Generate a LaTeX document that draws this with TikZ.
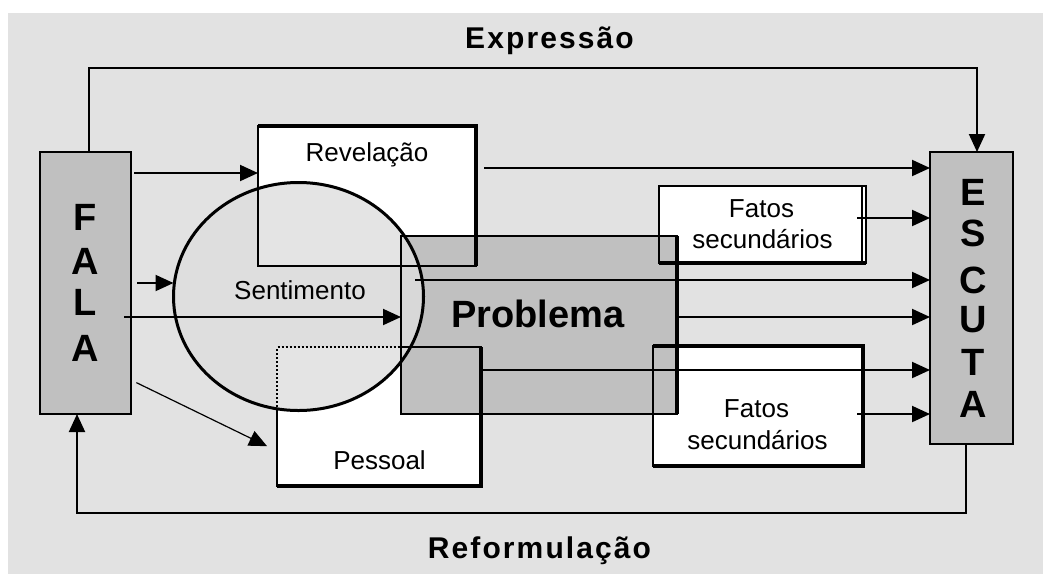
\documentclass[tikz,border=0pt]{standalone}
\usepackage{fontspec}
\setmainfont{Liberation Sans}
\usetikzlibrary{arrows.meta,shapes.geometric}
\definecolor{bg}{HTML}{E2E2E2}
\definecolor{boxgray}{HTML}{C0C0C0}
\definecolor{circfill}{HTML}{DEDEDE}
\newcommand{\dgTitle}{\fontsize{30}{36}\selectfont\bfseries\addfontfeatures{LetterSpace=7}}
\newcommand{\dgBig}{\fontsize{38}{42}\selectfont\bfseries}
\newcommand{\dgLabel}{\fontsize{26}{30}\selectfont}
\begin{document}
\begin{tikzpicture}[x=1pt,y=-1pt,
  box/.style={rectangle, inner sep=0pt, outer sep=0pt, fill=white},
  graybox/.style={box, fill=boxgray},
  arr/.style={-{Triangle[length=18pt,width=16pt]}, line width=2pt},
  frame/.style={line width=2pt},
  heavy/.style={line width=3.5pt},
  lbl/.style={font=\dgLabel, inner sep=0pt, anchor=base},
  big/.style={font=\dgBig, inner sep=0pt},
  ttl/.style={font=\dgTitle, inner sep=0pt, anchor=base}]
\useasboundingbox (0,0) rectangle (1043,574);
\fill[white] (0,0) rectangle (1043,574);
\fill[bg] (8,13) rectangle (1043,574);

% fills
\node[graybox, minimum width=91pt, minimum height=262pt] (fala) at (85.5,283) {};
\node[graybox, minimum width=83pt, minimum height=292pt] (esc) at (971.5,298) {};
\node[box, minimum width=218pt, minimum height=140pt] (rev) at (367,196) {};
\node[box, minimum width=204pt, minimum height=139pt] (pess) at (379,416.5) {};
\node[box, minimum width=207pt, minimum height=77pt] (fat1) at (762.5,224.5) {};
\node[box, minimum width=210pt, minimum height=120pt] (fat2) at (758,406) {};
\node[graybox, minimum width=276pt, minimum height=178pt] (prob) at (539,325) {};
\node[ellipse, inner sep=0pt, outer sep=0pt, minimum width=250pt, minimum height=228pt,
      fill=circfill, fill opacity=0.8, draw, line width=3pt] (circ) at (298.5,296.5) {};

% borders
\draw[frame] (fala.north west) rectangle (fala.south east);
\draw[frame] (esc.north west) rectangle (esc.south east);
\draw[frame] (rev.north west) rectangle (rev.south east);
\draw[heavy] (rev.north west) -- (rev.north east) -- (rev.south east);
\draw[frame] (fat1.north west) rectangle (fat1.south east);
\draw[heavy] (fat1.south west) -- (fat1.south east);
\draw[frame] ([xshift=-4pt]fat1.north east) -- ([xshift=-4pt]fat1.south east);
\draw[frame] (fat2.north west) rectangle (fat2.south east);
\draw[heavy] (fat2.south west) -- (fat2.south east) -- (fat2.north east) -- (fat2.north west);
\draw[frame] (prob.west |- pess.north) -- (pess.north east) -- (pess.south east) -- (pess.south west) -- (pess.west |- circ.south);
\draw[frame, dotted] (pess.west |- circ.south) -- (pess.north west) -- (prob.west |- pess.north);
\draw[heavy] (pess.north east) -- (pess.south east) -- (pess.south west);
\draw[frame] (prob.north west) rectangle (prob.south east);
\draw[heavy] (prob.north east) -- (prob.south east);

% loop connectors
\coordinate (top) at (0,68);
\coordinate (bot) at (0,513);
\coordinate (fx) at ([xshift=3.5pt]fala.north);
\coordinate (ex) at ([xshift=5.5pt]esc.north);
\coordinate (rx) at ([xshift=-5.5pt]esc.south);
\coordinate (fy) at ([xshift=-8.5pt]fala.south);
\draw[arr] (fx) -- (fx |- top) -- (ex |- top) -- (ex);
\draw[arr] (rx) -- (rx |- bot) -- (fy |- bot) -- (fy);

% arrows from FALA
\draw[arr, shorten <=3pt] (fala.east |- 0,173) -- (rev.west |- 0,173);
\draw[arr, shorten <=6pt] (fala.east |- 0,283) -- (circ.west |- 0,283);
\draw[arr, shorten <=-7pt] (fala.east |- 0,317) -- (prob.west |- 0,317);
\draw[line width=1.2pt, -{Triangle[length=18pt,width=16pt]}, shorten <=6pt, shorten >=11pt]
  (fala.east |- 0,380) -- (pess.west |- 0,451);

% arrows to ESCUTA
\draw[arr, shorten <=8pt] (rev.east |- 0,168) -- (esc.west |- 0,168);
\draw[arr, shorten <=-9pt] (fat1.east |- 0,218) -- (esc.west |- 0,218);
\draw[arr, shorten <=14pt] (prob.west |- 0,280) -- (esc.west |- 0,280);
\draw[arr] (prob.east |- 0,317) -- (esc.west |- 0,317);
\draw[arr] (pess.east |- 0,370) -- (esc.west |- 0,370);
\draw[arr, shorten <=-6pt] (fat2.east |- 0,414) -- (esc.west |- 0,414);

% texts
\node[ttl] (texpr) at (549.5,48.3) {Expressão};
\node[ttl] (trefo) at (539.5,558.3) {Reformulação};
\node[big] (f1) at (85.5,217) {F};
\node[big] (f2) at (85.5,261) {A};
\node[big] (f3) at (85.5,302) {L};
\node[big] (f4) at (85.5,348) {A};
\node[big] (e1) at (973,192) {E};
\node[big] (e2) at (973,233) {S};
\node[big] (e3) at (973,280) {C};
\node[big] (e4) at (973,320) {U};
\node[big] (e5) at (973,362) {T};
\node[big] (e6) at (973,404) {A};
\node[big, anchor=base] (tprob) at (538,327) {Problema};
\node[lbl] (trev) at (367,161.5) {Revelação};
\node[lbl] (tsent) at (300,299) {Sentimento};
\node[lbl] (tpess) at (379.5,469) {Pessoal};
\node[lbl] (tf1a) at (761.5,217) {Fatos};
\node[lbl] (tf1b) at (762.5,248) {secundários};
\node[lbl] (tf2a) at (756.5,417) {Fatos};
\node[lbl] (tf2b) at (757.5,449) {secundários};
\end{tikzpicture}
\end{document}
